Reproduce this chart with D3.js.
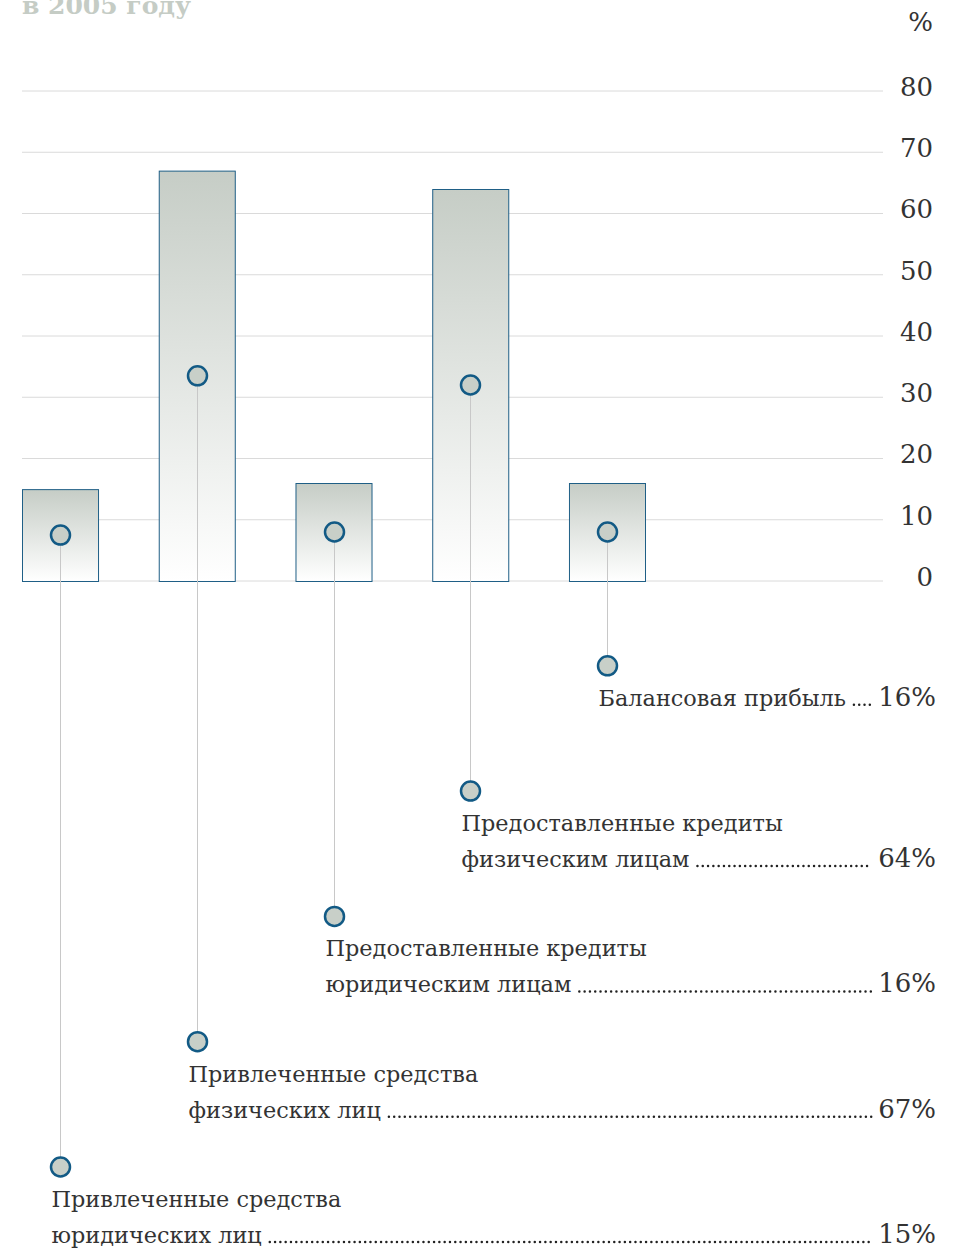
<!DOCTYPE html>
<html>
<head>
<meta charset="utf-8">
<script src="https://cdn.jsdelivr.net/npm/d3@7"></script>
<style>
  body { margin: 0; background: #fff; }
  svg { display: block; }
  text { font-family: "DejaVu Serif", serif; }
</style>
</head>
<body>
<svg id="chart" width="955" height="1251"></svg>
<script>
  // --- data ---
  var categories = ['ЮЛ-привлеч', 'ФЛ-привлеч', 'ЮЛ-кредит', 'ФЛ-кредит', 'Прибыль'];
  var values = [15, 67, 16, 64, 16];
  var labelLines = [
    ['Привлеченные средства', 'юридических лиц'],
    ['Привлеченные средства', 'физических лиц'],
    ['Предоставленные кредиты', 'юридическим лицам'],
    ['Предоставленные кредиты', 'физическим лицам'],
    ['Балансовая прибыль']
  ];
  var yTicks = [0, 10, 20, 30, 40, 50, 60, 70, 80];

  var svg = d3.select('#chart');

  var x = d3.scaleBand()
    .domain(categories)
    .range([22, 645])
    .paddingInner(0.444)
    .paddingOuter(0);

  var y = d3.scaleLinear()
    .domain([0, 80])
    .range([581, 91]);

  // title (cut at top)
  svg.append('text')
    .attr('x', 22)
    .attr('y', 14)
    .style('font-size', '25px')
    .style('font-weight', 'bold')
    .style('fill', '#c5ccc5')
    .text('в 2005 году');

  svg.append('text')
    .attr('x', 933)
    .attr('y', 31)
    .attr('text-anchor', 'end')
    .style('font-size', '26px')
    .style('fill', '#333')
    .text('%');

  var defs = svg.append('defs');
  var grad = defs.append('linearGradient')
    .attr('id', 'barGrad')
    .attr('x1', 0).attr('y1', 0)
    .attr('x2', 0).attr('y2', 1);
  grad.append('stop').attr('offset', '0%').attr('stop-color', '#c6cdc6');
  grad.append('stop').attr('offset', '100%').attr('stop-color', '#ffffff');

  // grid + tick labels
  var axis = d3.axisRight(y)
    .tickValues(yTicks)
    .tickSize(0)
    .tickPadding(0);

  var grid = svg.append('g');
  grid.selectAll('line')
    .data(yTicks)
    .enter()
    .append('line')
    .attr('x1', 22)
    .attr('x2', 883)
    .attr('y1', function (d) { return y(d); })
    .attr('y2', function (d) { return y(d); })
    .style('stroke', '#dadada')
    .style('stroke-width', 1);

  var ax = svg.append('g')
    .attr('transform', 'translate(933,-5)')
    .call(axis);
  ax.select('.domain').remove();
  ax.selectAll('text')
    .attr('x', 0)
    .attr('dy', '0.36em')
    .attr('text-anchor', 'end')
    .style('font-family', '"DejaVu Serif", serif')
    .style('font-size', '26px')
    .style('fill', '#333');

  // bars
  svg.append('g').selectAll('rect')
    .data(values)
    .enter()
    .append('rect')
    .attr('x', function (d, i) { return x(categories[i]) + 0.5; })
    .attr('y', function (d) { return y(d) + 0.5; })
    .attr('width', x.bandwidth())
    .attr('height', function (d) { return y(0) - y(d); })
    .style('fill', 'url(#barGrad)')
    .style('stroke', '#1f5f86')
    .style('stroke-width', 1);

  function cx(i) { return Math.round(x(categories[i]) + x.bandwidth() / 2) + 0.5; }
  function lowY(i) { return 1167 - i * 125.3; }

  // connectors
  svg.append('g').selectAll('line')
    .data(values)
    .enter()
    .append('line')
    .attr('x1', function (d, i) { return cx(i); })
    .attr('x2', function (d, i) { return cx(i); })
    .attr('y1', function (d) { return y(d / 2); })
    .attr('y2', function (d, i) { return lowY(i); })
    .style('stroke', '#c8c8c8')
    .style('stroke-width', 1);

  // circles
  var circles = svg.append('g');
  values.forEach(function (d, i) {
    [y(d / 2), lowY(i)].forEach(function (cy) {
      circles.append('circle')
        .attr('cx', cx(i))
        .attr('cy', cy)
        .attr('r', 9.5)
        .style('fill', '#c8cfc8')
        .style('stroke', '#125a85')
        .style('stroke-width', 2.5);
    });
  });

  // labels with dotted leaders
  var labels = svg.append('g');
  values.forEach(function (d, i) {
    var lx = cx(i) - 9,
        lines = labelLines[i],
        cy = lowY(i),
        lastY = cy + 40 + (lines.length - 1) * 36,
        last;

    lines.forEach(function (s, j) {
      last = labels.append('text')
        .attr('x', lx)
        .attr('y', cy + 40 + j * 36)
        .style('font-size', '22.4px')
        .style('fill', '#333')
        .text(s);
    });

    var pct = labels.append('text')
      .attr('x', 936)
      .attr('y', lastY)
      .attr('text-anchor', 'end')
      .style('font-size', '26px')
      .style('fill', '#333')
      .text(d + '%');

    var endX = lx + last.node().getComputedTextLength() + 8,
        startPct = 936 - pct.node().getComputedTextLength() - 7;

    labels.append('line')
      .attr('x1', endX)
      .attr('x2', startPct)
      .attr('y1', lastY - 1)
      .attr('y2', lastY - 1)
      .style('stroke', '#222')
      .style('stroke-width', 2.5)
      .style('stroke-linecap', 'round')
      .style('stroke-dasharray', '0 5.3');
  });
</script>
</body>
</html>
